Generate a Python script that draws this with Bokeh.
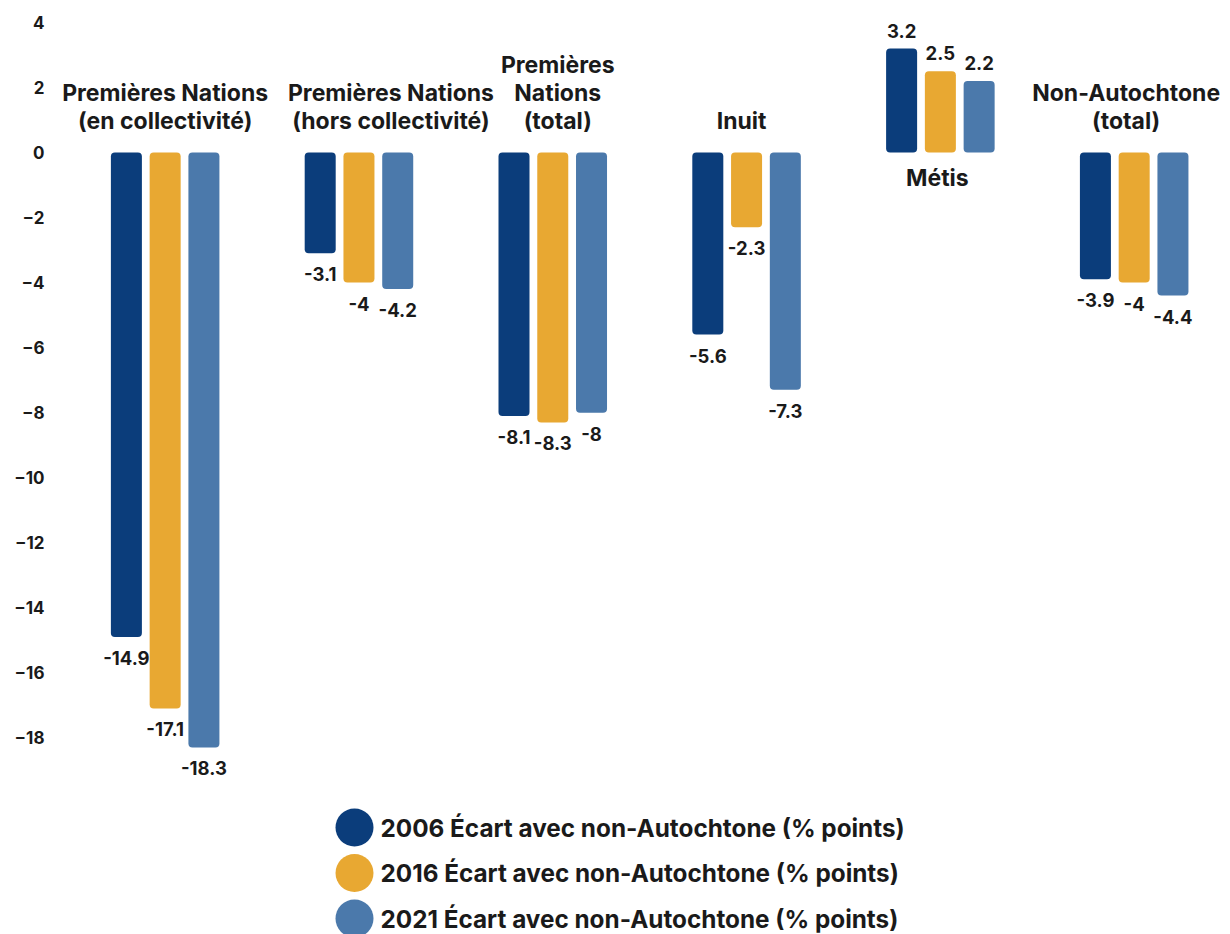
from bokeh.plotting import figure
from bokeh.models import ColumnDataSource, Range1d, FixedTicker
from bokeh.layouts import column
from bokeh.core.properties import value
from bokeh.embed import file_html
from bokeh.resources import INLINE

# ---- data -------------------------------------------------------------
groups = [
    "Premières Nations\n(en collectivité)",
    "Premières Nations\n(hors collectivité)",
    "Premières\nNations\n(total)",
    "Inuit",
    "Métis",
    "Non-Autochtone\n(total)",
]
years = ["2006", "2016", "2021"]
gap_2006 = [-14.9, -3.1, -8.1, -5.6, 3.2, -3.9]
gap_2016 = [-17.1, -4.0, -8.3, -2.3, 2.5, -4.0]
gap_2021 = [-18.3, -4.2, -8.0, -7.3, 2.2, -4.4]
series = [gap_2006, gap_2016, gap_2021]
legend_labels = [f"{y} Écart avec non-Autochtone (% points)" for y in years]
y_ticks = [4, 2, 0, -2, -4, -6, -8, -10, -12, -14, -16, -18]

# ---- styling / layout ---------------------------------------------------
colors = ["#0b3d7b", "#e8a832", "#4b79ab"]
label_nudge_px = [0, 32, 5, -5, -3, -8]   # horizontal tweak of group titles
FONT = value("Inter")
INK = "#1a1a1a"
bar_w = 0.16
bar_step = 0.2
FRAME_LEFT = 60

p = figure(
    width=1230, height=795,
    x_range=Range1d(-0.54, 5.497), y_range=Range1d(-19.78, 4.68),
    output_backend="svg", toolbar_location=None,
    x_axis_location=None,
    min_border_left=FRAME_LEFT, min_border_right=0, min_border_top=0, min_border_bottom=0,
)
p.outline_line_color = None
p.xgrid.visible = False
p.ygrid.visible = False
p.background_fill_color = "white"

ax = p.yaxis[0]
ax.ticker = FixedTicker(ticks=y_ticks)
ax.axis_line_color = None
ax.major_tick_line_color = None
ax.minor_tick_line_color = None
ax.major_tick_out = 0
ax.minor_tick_out = 0
ax.major_label_standoff = 16
ax.major_label_text_font = "Inter"
ax.major_label_text_font_style = "bold"
ax.major_label_text_font_size = "17px"
ax.major_label_text_color = INK

neg_x, neg_y, neg_t = [], [], []
pos_x, pos_y, pos_t = [], [], []
for k, vals in enumerate(series):
    xs = [i + (k - 1) * bar_step for i in range(len(groups))]
    src = ColumnDataSource(dict(x=xs, top=vals))
    p.vbar(x="x", top="top", bottom=0, width=bar_w, source=src,
           fill_color=colors[k], line_color=None, border_radius=4)
    for x, v in zip(xs, vals):
        txt = f"{v:g}"
        if v < 0:
            neg_x.append(x); neg_y.append(v); neg_t.append(txt)
        else:
            pos_x.append(x); pos_y.append(v); pos_t.append(txt)

value_style = dict(text_font=FONT, text_font_style="bold", text_font_size="18.5px",
                   text_color=INK, text_align="center")
p.text(x="x", y="y", text="t", source=ColumnDataSource(dict(x=neg_x, y=neg_y, t=neg_t)),
       text_baseline="top", y_offset=14, **value_style)
p.text(x="x", y="y", text="t", source=ColumnDataSource(dict(x=pos_x, y=pos_y, t=pos_t)),
       text_baseline="bottom", y_offset=-11, **value_style)

# group titles: above the baseline for negative groups, below it for positive ones
above_x, above_t, above_dx = [], [], []
below_x, below_t, below_dx = [], [], []
for i, g in enumerate(groups):
    vals = [s[i] for s in series]
    if max(vals) <= 0:
        above_x.append(i); above_t.append(g); above_dx.append(label_nudge_px[i])
    else:
        below_x.append(i); below_t.append(g); below_dx.append(label_nudge_px[i])

title_style = dict(text_font=FONT, text_font_style="bold", text_font_size="23px",
                   text_color=INK, text_align="center", text_line_height=1.0)
p.text(x="x", y=0, text="t", x_offset="dx",
       source=ColumnDataSource(dict(x=above_x, t=above_t, dx=above_dx)),
       text_baseline="bottom", y_offset=-18, **title_style)
p.text(x="x", y=0, text="t", x_offset="dx",
       source=ColumnDataSource(dict(x=below_x, t=below_t, dx=below_dx)),
       text_baseline="top", y_offset=11, **title_style)

# ---- legend -------------------------------------------------------------
# the column aligns this frame with the chart frame, so its x range starts at FRAME_LEFT
leg = figure(
    width=1230, height=139,
    x_range=Range1d(FRAME_LEFT, 1230), y_range=Range1d(139, 0),
    output_backend="svg", toolbar_location=None,
    x_axis_location=None, y_axis_location=None,
    min_border=0, min_border_left=0, min_border_right=0,
    min_border_top=0, min_border_bottom=0,
)
leg.outline_line_color = None
leg.xgrid.visible = False
leg.ygrid.visible = False

row_h = 45.5
rows = [32 + row_h * i for i in range(len(legend_labels))]
leg.scatter(x=[354] * len(rows), y=rows, size=38, marker="circle",
            fill_color=colors, line_color=None)
leg.text(x=[380] * len(rows), y=rows, text=legend_labels,
         text_font=FONT, text_font_style="bold", text_font_size="24.3px",
         text_color=INK, text_baseline="middle", text_align="left")

layout = column(p, leg, spacing=0)
open("out.html", "w").write(file_html(layout, INLINE))
